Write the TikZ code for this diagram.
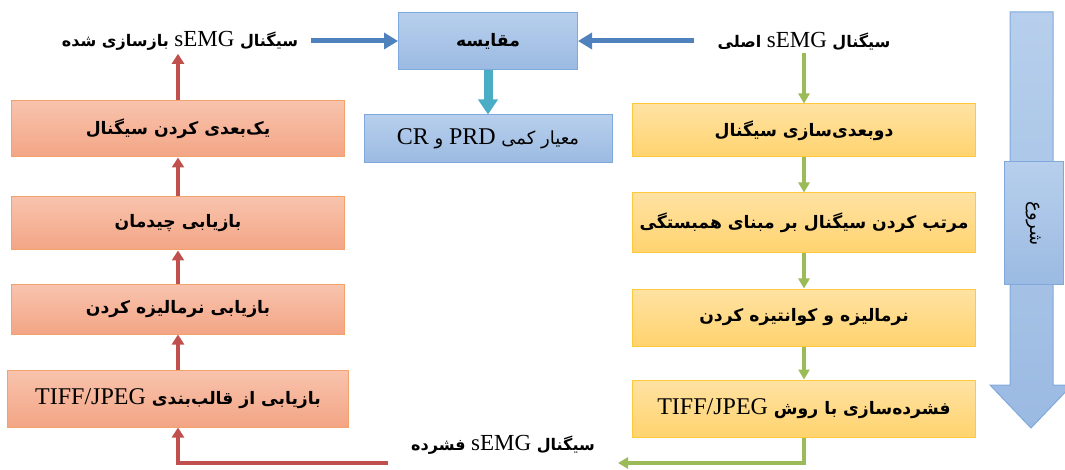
\documentclass[tikz,border=0pt]{standalone}
\usepackage{fontspec}
\setmainfont{Liberation Serif}
\newfontfamily\fa[Script=Arabic]{DejaVu Sans}
\newfontfamily\la{Liberation Serif}
\TeXXeTstate=1
\usetikzlibrary{arrows.meta}
\newcommand\ltn[1]{\beginL{\la #1}\endL}
\definecolor{bluetop}{HTML}{B7CFEC}
\definecolor{bluebot}{HTML}{9BBAE2}
\definecolor{blueline}{HTML}{7FA9DC}
\definecolor{redtop}{HTML}{F8C3AD}
\definecolor{redbot}{HTML}{F3A585}
\definecolor{redline}{HTML}{F4A26C}
\definecolor{yeltop}{HTML}{FFE2A3}
\definecolor{yelbot}{HTML}{FFD36E}
\definecolor{yelline}{HTML}{FFC93C}
\definecolor{redarr}{HTML}{C0504D}
\definecolor{bluearr}{HTML}{4F81BD}
\definecolor{tealarr}{HTML}{4BACC6}
\definecolor{greenarr}{HTML}{9BBB59}
\tikzset{
  basebox/.style={draw, line width=1pt, inner sep=2pt, align=center},
  bbox/.style={basebox, draw=blueline, top color=bluetop, bottom color=bluebot},
  rbox/.style={basebox, draw=redline, top color=redtop, bottom color=redbot, minimum width=333pt},
  ybox/.style={basebox, draw=yelline, top color=yeltop, bottom color=yelbot, minimum width=343pt},
  lbl/.style={inner sep=3pt},
  fatxt/.style={font=\fa\bfseries\fontsize{16}{19}\selectfont},
  boxtxt/.style={font=\fa\bfseries\fontsize{17.2}{20}\selectfont},
  redarrow/.style={draw=redarr, line width=3.5pt, -{Triangle[width=12pt,length=10pt]}},
  bluearrow/.style={draw=bluearr, line width=5pt, -{Triangle[width=16pt,length=14pt]}},
  tealarrow/.style={draw=tealarr, line width=9pt, -{Triangle[width=19pt,length=15pt]}},
  greenarrow/.style={draw=greenarr, line width=3.5pt, -{Triangle[width=11pt,length=10pt]}},
}
\begin{document}
\begin{tikzpicture}[x=1pt,y=-1pt]
\clip (0,0) rectangle (1065,470);
% big start arrow
\path[draw=blueline, line width=1pt, top color=bluetop, bottom color=bluebot]
  (1010,12) -- (1053,12) -- (1053,385) -- (1072,385) -- (1031,428) -- (990,385) -- (1010,385) -- cycle;
\node[bbox, minimum width=59pt, minimum height=123pt, inner sep=0pt] (start) at (1033.5,223.5)
  {\rotatebox{-90}{\fa\fontsize{18}{20}\selectfont\beginR شروع\endR}};

% blue boxes
\node[bbox, boxtxt, minimum width=179pt, minimum height=57pt] (cmp) at (488,41) {\beginR مقایسه\endR};
\node[bbox, minimum width=248pt, minimum height=48pt, font=\fa\fontsize{18}{21}\selectfont] (crit) at (488,139)
  {\beginR معیار کمی \ltn{\fontsize{24}{26}\selectfont PRD} و \ltn{\fontsize{24}{26}\selectfont CR}\endR};

% labels
\node[lbl, fatxt] (recon) at (180,41) {\beginR سیگنال \ltn{\mdseries\fontsize{23}{26}\selectfont sEMG} بازسازی شده\endR};
\node[lbl, fatxt] (orig) at (804,41) {\beginR سیگنال \ltn{\mdseries\fontsize{23}{26}\selectfont sEMG} اصلی\endR};
\node[lbl, fatxt] (comp) at (503,445) {\beginR سیگنال \ltn{\mdseries\fontsize{23}{26}\selectfont sEMG} فشرده\endR};

% yellow boxes
\node[ybox, boxtxt, minimum height=53pt] (y1) at (804,130.5) {\beginR دوبعدی‌سازی سیگنال\endR};
\node[ybox, boxtxt, minimum height=60pt] (y2) at (804,223) {\beginR مرتب کردن سیگنال بر مبنای همبستگی\endR};
\node[ybox, boxtxt, minimum height=57pt] (y3) at (804,317.5) {\beginR نرمالیزه و کوانتیزه کردن\endR};
\node[ybox, boxtxt, minimum height=57pt] (y4) at (804,408.5) {\beginR فشرده‌سازی با روش \ltn{\mdseries\fontsize{24}{26}\selectfont TIFF/JPEG}\endR};

% red boxes
\node[rbox, boxtxt, minimum height=56pt] (r1) at (178,129) {\beginR یک‌بعدی کردن سیگنال\endR};
\node[rbox, boxtxt, minimum height=53pt] (r2) at (178,223.5) {\beginR بازیابی چیدمان\endR};
\node[rbox, boxtxt, minimum height=49pt] (r3) at (178,309.5) {\beginR بازیابی نرمالیزه کردن\endR};
\node[rbox, boxtxt, minimum height=57pt, minimum width=341pt] (r4) at (178,398.5) {\beginR بازیابی از قالب‌بندی \ltn{\mdseries\fontsize{24}{26}\selectfont TIFF/JPEG}\endR};

\coordinate (gend) at (618,463);
\coordinate (rstart) at (388,463);

% connectors
\draw[bluearrow] (recon.east) ++(10pt,0) -- (cmp.west);
\draw[bluearrow] (orig.west) ++(-20pt,0) -- (cmp.east);
\draw[tealarrow] (cmp) -- (crit);
\draw[greenarrow] (orig) -- (y1);
\draw[greenarrow] (y1) -- (y2);
\draw[greenarrow] (y2) -- (y3);
\draw[greenarrow] (y3) -- (y4);
\draw[greenarrow] (y4.south) -- (y4.south |- gend) -- (gend);
\draw[redarrow] (rstart) -- (rstart -| r4.south) -- (r4.south);
\draw[redarrow] (r4) -- (r3);
\draw[redarrow] (r3) -- (r2);
\draw[redarrow] (r2) -- (r1);
\draw[redarrow] (r1.north) -- (r1.north |- recon.south);
\end{tikzpicture}
\end{document}
